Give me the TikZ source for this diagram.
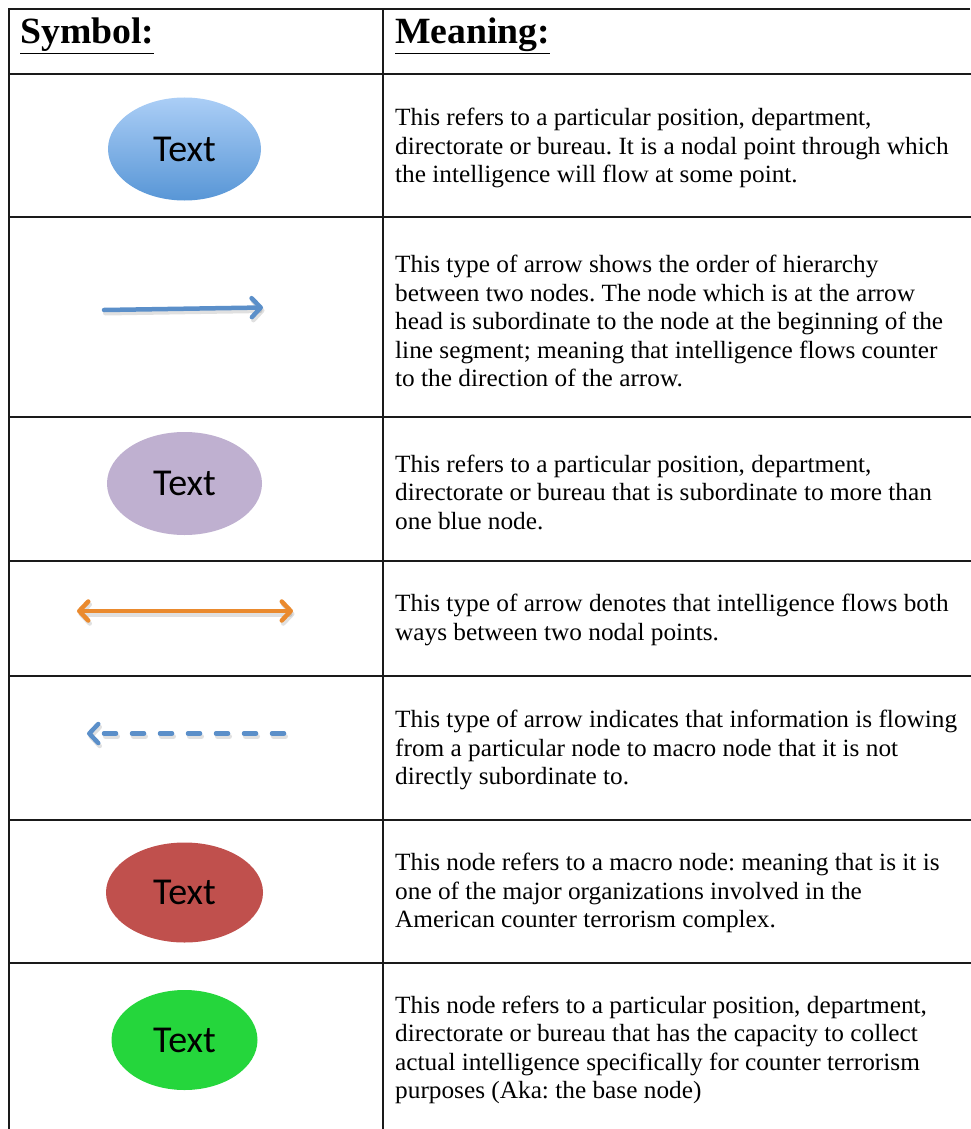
\documentclass[tikz,border=0pt]{standalone}
\usepackage{fontspec}
\setmainfont[FakeStretch=1.02]{Liberation Serif}
\newfontfamily\calib{Carlito}
\usetikzlibrary{arrows.meta,shapes.geometric}
\definecolor{gridc}{HTML}{1A1A1A}
\definecolor{blueT}{HTML}{ABCEF6}
\definecolor{blueB}{HTML}{5896D6}
\definecolor{purp}{HTML}{BFB0D0}
\definecolor{redn}{HTML}{C0504D}
\definecolor{greenn}{HTML}{25D63C}
\definecolor{arrblue}{HTML}{5B8FC9}
\definecolor{arrorange}{HTML}{EA8A2E}
\frenchspacing
\tikzset{
  grid/.style={draw=gridc,line width=1.6pt},
  ell/.style={ellipse,inner sep=0pt,font=\calib\fontsize{38}{40}\selectfont,text=black},
  desc/.style={anchor=west,align=left,inner sep=0pt,font=\fontsize{24.8}{28.5}\selectfont},
  head/.style={anchor=base west,inner sep=0pt,font=\bfseries\fontsize{37}{40}\selectfont},
  arr/.style={line width=4.5pt,line cap=round},
  shadowline/.style={line width=5pt,line cap=round,draw=black,opacity=0.12},
  barb/.tip={Straight Barb[length=9pt,width=19pt,line width=4.5pt,line cap=round,line join=round]}
}
\begin{document}
\begin{tikzpicture}[x=1pt,y=-1pt]
\useasboundingbox (0,0) rectangle (970,1129);
% grid
\draw[grid] (970,9) -- (9,9) -- (9,1135);
\draw[grid] (383,9) -- (383,1135);
\foreach \yy in {74,217,417,561,676,820,963}{\draw[grid] (9,\yy) -- (975,\yy);}
% headers
\node[head] (hs) at (20,44) {\underline{Symbol:}};
\node[head] (hm) at (395,44) {\underline{Meaning:}};
% row 1
\node[ell,minimum width=153pt,minimum height=103pt,top color=blueT,bottom color=blueB] (e1) at (184.5,149) {Text};
\node[desc] (t1) at (395,148) {This refers to a particular position, department,\\directorate or bureau. It is a nodal point through which\\the intelligence will flow at some point.};
% row 2
\coordinate (a1s) at (104,310);
\coordinate (a1e) at (263,307.5);
\draw[shadowline,-barb] ([shift={(1.5,3)}]a1s) -- ([shift={(1.5,3)}]a1e);
\draw[arr,arrblue,-barb] (a1s) -- (a1e);
\node[desc] (t2) at (395,321) {This type of arrow shows the order of hierarchy\\between two nodes. The node which is at the arrow\\head is subordinate to the node at the beginning of the\\line segment; meaning that intelligence flows counter\\to the direction of the arrow.};
% row 3
\node[ell,minimum width=155pt,minimum height=103pt,fill=purp] (e3) at (184.5,483.5) {Text};
\node[desc] (t3) at (395,492) {This refers to a particular position, department,\\directorate or bureau that is subordinate to more than\\one blue node.};
% row 4
\coordinate (a2s) at (77,611);
\coordinate (a2e) at (293,611);
\draw[shadowline,barb-barb] ([shift={(1.5,3)}]a2s) -- ([shift={(1.5,3)}]a2e);
\draw[arr,arrorange,barb-barb] (a2s) -- (a2e);
\node[desc] (t4) at (395,620) {This type of arrow denotes that intelligence flows both\\ways between two nodal points.};
% row 5
\coordinate (a3s) at (284,733.5);
\coordinate (a3e) at (87,733.5);
\draw[shadowline,-barb,dash pattern=on 12pt off 16pt] ([shift={(1.5,3)}]a3s) -- ([shift={(1.5,3)}]a3e);
\draw[arr,arrblue,-barb,dash pattern=on 12pt off 16pt] (a3s) -- (a3e);
\node[desc] (t5) at (395,750) {This type of arrow indicates that information is flowing\\from a particular node to macro node that it is not\\directly subordinate to.};
% row 6
\node[ell,minimum width=157pt,minimum height=100pt,fill=redn] (e6) at (184.5,892.5) {Text};
\node[desc] (t6) at (395,893) {This node refers to a macro node: meaning that is it is\\one of the major organizations involved in the\\American counter terrorism complex.};
% row 7
\node[ell,minimum width=146pt,minimum height=100pt,fill=greenn] (e7) at (184.5,1040) {Text};
\node[desc] (t7) at (395,1050) {This node refers to a particular position, department,\\directorate or bureau that has the capacity to collect\\actual intelligence specifically for counter terrorism\\purposes (Aka: the base node)};
\end{tikzpicture}
\end{document}
